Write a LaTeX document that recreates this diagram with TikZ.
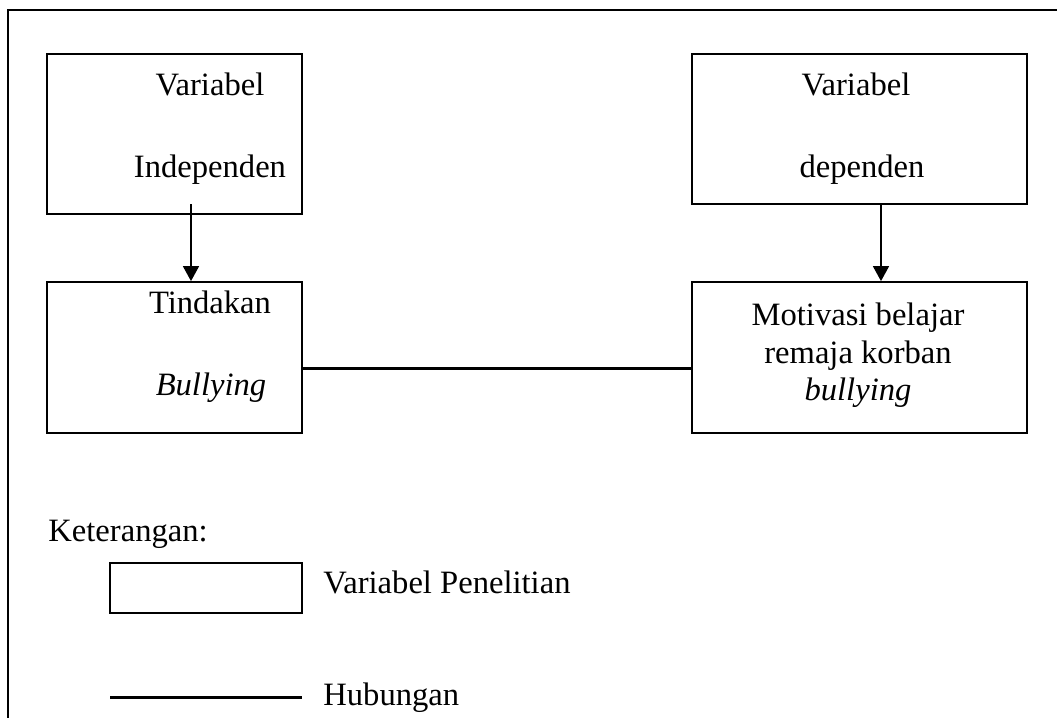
\documentclass[tikz,border=0pt]{standalone}
\usepackage{fontspec}
\setmainfont{Liberation Serif}
\usepackage{tikz}
\usetikzlibrary{arrows.meta}
\usetikzlibrary{fit,calc}

\begin{document}
\begin{tikzpicture}[x=0.5pt, y=-0.5pt,
		font=\fontsize{16.3}{19}\selectfont,
		varbox/.style={rectangle, draw, line width=0.9pt, inner sep=0pt},
		boxtext/.style={anchor=base, inner sep=0pt},
		arrowline/.style={-{Triangle[width=8pt,length=7.5pt]}, line width=0.8pt},
		linkline/.style={line width=1.5pt}]
		\useasboundingbox (0,0) rectangle (1057,718);
		
		% frame, cut off at the right and bottom
		\draw [line width=0.8pt] (1057,10) -- (8,10) -- (8,718);
		
		\node (rectindep) [varbox, fit={(47,54) (302,214)}] {};
		\node (txtindepa) [boxtext] at (210,95) {Variabel};
		\node (txtindepb) [boxtext] at (210,177) {Independen};
		
		\node (rectdep) [varbox, fit={(692,54) (1027,204)}] {};
		\node (txtdepa) [boxtext] at (856,95) {Variabel};
		\node (txtdepb) [boxtext] at (862,177) {dependen};
		
		\node (recttindakan) [varbox, fit={(47,282) (302,433)}] {};
		\node (txttindakana) [boxtext] at (210,313) {Tindakan};
		\node (txttindakanb) [boxtext] at (211,395) {\textit{Bullying}};
		
		\node (rectmotivasi) [varbox, fit={(692,282) (1027,433)}] {};
		\node (txtmotivasia) [boxtext] at (858,325) {Motivasi belajar};
		\node (txtmotivasib) [boxtext] at (858,363) {remaja korban};
		\node (txtmotivasic) [boxtext] at (858,400) {\textit{bullying}};
		
		\coordinate (arrstarta) at (191,204);
		\coordinate (arrstartb) at (881,204);
		\coordinate (linky) at (0,368);
		\draw [arrowline] (arrstarta) -- (arrstarta |- recttindakan.north);
		\draw [arrowline] (arrstartb) -- (arrstartb |- rectmotivasi.north);
		\draw [linkline] (recttindakan.east |- linky) -- (rectmotivasi.west |- linky);
		
		% legend
		\node (txtketerangan) [anchor=base west, inner sep=0pt] at (48,541) {Keterangan:};
		\node (rectlegend) [varbox, fit={(110,563) (302,613)}] {};
		\node (txtpenelitian) [anchor=base west, inner sep=0pt] at (323,593) {Variabel Penelitian};
		\coordinate (legstart) at (110,697);
		\coordinate (legend) at (302,697);
		\draw [linkline] (legstart) -- (legend);
		\node (txthubungan) [anchor=base west, inner sep=0pt] at (323,705) {Hubungan};
		
		\end{tikzpicture}
\end{document}
